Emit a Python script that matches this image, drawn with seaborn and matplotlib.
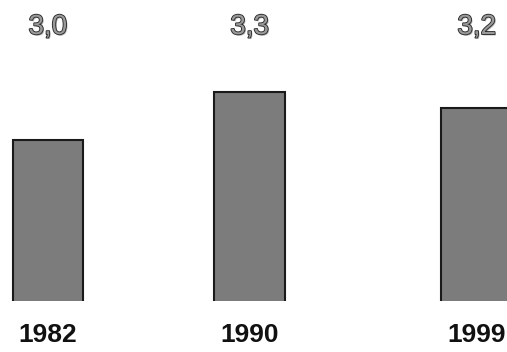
import matplotlib
matplotlib.use("Agg")
import matplotlib.pyplot as plt
import matplotlib.patheffects as pe
import seaborn as sns
import pandas as pd

years = [1982, 1990, 1999]
values = [3.0, 3.3, 3.2]
labels = ["3,0", "3,3", "3,2"]

sns.set_style("white")
plt.rcParams['font.family'] = ['Liberation Sans', 'DejaVu Sans']

df = pd.DataFrame({"year": years, "value": values})

fig = plt.figure(figsize=(5.07, 3.52), dpi=100)
ax = fig.add_axes([0, 0.145, 1, 0.855])

sns.barplot(data=df, x="year", y="value", native_scale=True, width=0.35,
            color="#7c7c7c", saturation=1, edgecolor="#1a1a1a", linewidth=1.5, ax=ax)

ax.set_xlim(1980.1, 2000.2)
ax.set_ylim(1.97, 3.89)

# value labels, grey with a dark outline like the scanned original
for yr, lab in zip(years, labels):
    t = ax.text(yr, 0.91, lab, transform=ax.get_xaxis_transform(), ha="center", va="center",
                fontsize=20, color="#9a9a9a")
    t.set_path_effects([pe.withSimplePatchShadow(offset=(1, -1), shadow_rgbFace="#aaaaaa", alpha=0.8),
                        pe.withStroke(linewidth=1.3, foreground="#2a2a2a")])

ax.set_xticks(years)
ax.set_xticklabels([str(y) for y in years], fontsize=19, fontweight="bold", color="#111111")
ax.tick_params(axis="x", length=0, pad=16)
ax.set_yticks([])
ax.set_xlabel("")
ax.set_ylabel("")
for s in ax.spines.values():
    s.set_visible(False)

fig.savefig("out.png", dpi=100)
